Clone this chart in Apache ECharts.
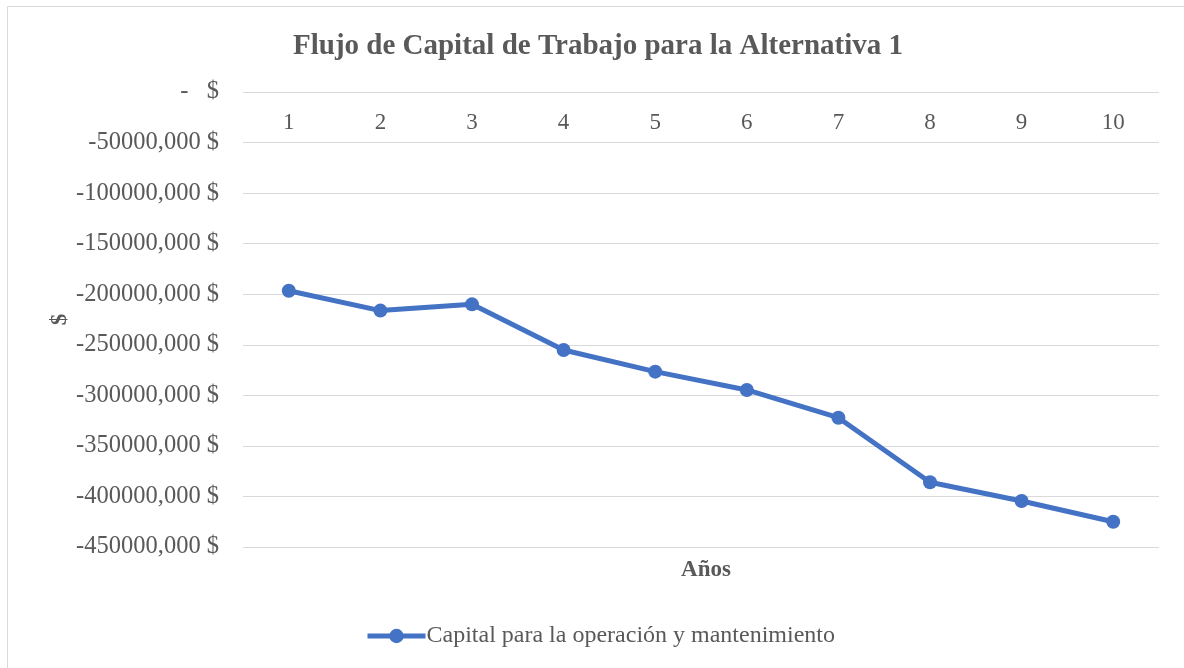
<!DOCTYPE html>
<html>
<head>
<meta charset="utf-8">
<script src="https://cdn.jsdelivr.net/npm/echarts@6/dist/echarts.min.js"></script>
<style>
  html, body { margin: 0; padding: 0; background: #fff; }
  #chart { width: 1184px; height: 668px; }
</style>
</head>
<body>
<div id="chart"></div>
<script>
const years = ['1', '2', '3', '4', '5', '6', '7', '8', '9', '10']
const capitalOperacion = [-196500, -216200, -210000, -255200, -276600, -294700, -322100, -386000, -404500, -425000]
const seriesName = 'Capital para la operación y mantenimiento'

const serif = '"Liberation Serif", "DejaVu Serif", serif'
const gray = '#595959'

const chart = echarts.init(document.getElementById('chart'))

const option = {
  animation: false,
  title: [
    {
      text: 'Flujo de Capital de Trabajo para la Alternativa 1',
      left: 593,
      textAlign: 'center',
      top: 27,
      textStyle: { fontFamily: serif, fontSize: 29, fontWeight: 'bold', color: gray }
    },
    {
      text: 'Años',
      left: 701,
      textAlign: 'center',
      top: 554,
      textStyle: { fontFamily: serif, fontSize: 23, fontWeight: 'bold', color: gray }
    }
  ],
  graphic: [
    {
      type: 'rect',
      shape: { x: 7.5, y: 6.5, width: 1200, height: 700 },
      style: { fill: 'none', stroke: '#d9d9d9', lineWidth: 1 },
      silent: true
    }
  ],
  legend: {
    bottom: 15,
    left: 360,
    itemWidth: 58,
    itemHeight: 18,
    itemGap: 4,
    lineStyle: { width: 5 },
    textStyle: { fontFamily: serif, fontSize: 24, color: gray, padding: [0, 0, 0, -4] },
    data: [seriesName]
  },
  grid: { left: 243, right: 25, top: 92, bottom: 121 },
  xAxis: {
    type: 'category',
    position: 'top',
    data: years,
    axisLine: { show: false },
    axisTick: { show: false },
    axisLabel: {
      inside: true,
      margin: 19,
      fontFamily: serif,
      fontSize: 23,
      color: gray
    }
  },
  yAxis: {
    type: 'value',
    min: -450000,
    max: 0,
    interval: 50000,
    name: '$',
    nameLocation: 'middle',
    nameGap: 171,
    nameMoveOverlap: false,
    nameRotate: 90,
    nameTextStyle: { fontFamily: serif, fontSize: 23, fontWeight: 'bold', color: gray },
    axisLine: { show: false },
    axisTick: { show: false },
    splitLine: { lineStyle: { color: '#d9d9d9', width: 1 } },
    axisLabel: {
      margin: 24,
      fontFamily: serif,
      fontSize: 24.5,
      color: gray,
      formatter: function (v) {
        if (v === 0) return '-   $'
        return v.toFixed(3).replace('.', ',') + ' $'
      }
    }
  },
  series: [
    {
      name: seriesName,
      type: 'line',
      data: capitalOperacion,
      symbol: 'circle',
      symbolSize: 14,
      lineStyle: { color: '#4472C4', width: 5 },
      itemStyle: { color: '#4472C4' }
    }
  ]
}

chart.setOption(option)
</script>
</body>
</html>
